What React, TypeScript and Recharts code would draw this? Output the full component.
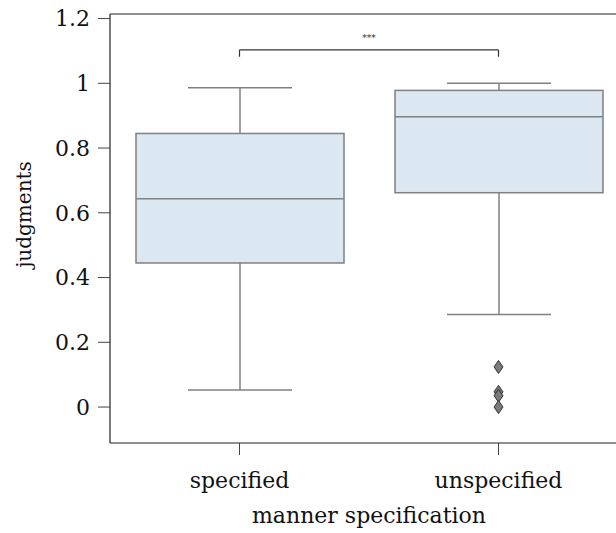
import React from 'react';
import { ComposedChart, Bar, Scatter, XAxis, YAxis, ReferenceLine, Label } from 'recharts';

const categories = ['specified', 'unspecified'];
const whiskerLow = [0.053, 0.286];
const q1 = [0.445, 0.662];
const median = [0.643, 0.897];
const q3 = [0.845, 0.978];
const whiskerHigh = [0.986, 1.0];
const outlierValues = [0.124, 0.047, 0.035, 0.0];
const yTicks = [0, 0.2, 0.4, 0.6, 0.8, 1, 1.2];
const bracketLevel = 1.103;
const bracketFoot = 1.082;

const yMin = -0.111;
const yMax = 1.214;

const data = categories.map((name, i) => ({
    name,
    range: [whiskerLow[i], whiskerHigh[i]],
    low: whiskerLow[i],
    q1: q1[i],
    median: median[i],
    q3: q3[i],
    high: whiskerHigh[i],
}));

const outliers = outlierValues.map((v) => ({ name: 'unspecified', value: v }));

const FONT = '"DejaVu Serif", serif';
const BOX_STROKE = '#808080';
const BOX_FILL = '#dbe8f2';

const BoxShape = (props: any) => {
    const { x, y, width, height, payload } = props;
    const { low, high } = payload;
    // pixel of a value, interpolated on the whisker span the bar covers
    const py = (v: number) => y + (height * (high - v)) / (high - low);
    const cx = x + width / 2;
    const capHalf = width / 4;
    return (
        <g>
            <line x1={cx} x2={cx} y1={py(high)} y2={py(payload.q3)} stroke={BOX_STROKE} strokeWidth={1.5} />
            <line x1={cx} x2={cx} y1={py(payload.q1)} y2={py(low)} stroke={BOX_STROKE} strokeWidth={1.5} />
            <line x1={cx - capHalf} x2={cx + capHalf} y1={py(high)} y2={py(high)} stroke={BOX_STROKE} strokeWidth={1.5} />
            <line x1={cx - capHalf} x2={cx + capHalf} y1={py(low)} y2={py(low)} stroke={BOX_STROKE} strokeWidth={1.5} />
            <rect
                x={x}
                y={py(payload.q3)}
                width={width}
                height={py(payload.q1) - py(payload.q3)}
                fill={BOX_FILL}
                stroke={BOX_STROKE}
                strokeWidth={1.5}
            />
            <line x1={x} x2={x + width} y1={py(payload.median)} y2={py(payload.median)} stroke={BOX_STROKE} strokeWidth={1.5} />
        </g>
    );
};

const Diamond = (props: any) => {
    const { cx, cy } = props;
    return (
        <path
            d={`M${cx},${cy - 6.5} L${cx + 4.5},${cy} L${cx},${cy + 6.5} L${cx - 4.5},${cy} Z`}
            fill="#7a7a7a"
            stroke="#333333"
            strokeWidth={1}
        />
    );
};

const YTitle = (props: any) => {
    const { viewBox } = props;
    const cx = 24;
    const cy = viewBox.y + viewBox.height / 2 - 14;
    return (
        <text x={cx} y={cy} transform={`rotate(-90, ${cx}, ${cy})`} textAnchor="middle" dominantBaseline="central" fontFamily={FONT} fontSize={20} fill="#111">
            judgments
        </text>
    );
};

export default function App() {
    return (
        <div style={{ position: 'absolute', left: 0, top: 0, width: 616, height: 533, overflow: 'hidden', background: '#fff' }}>
            <ComposedChart width={640} height={533} data={data} margin={{ top: 14, right: 12, left: 0, bottom: 0 }}>
                <XAxis
                    dataKey="name"
                    type="category"
                    allowDuplicatedCategory={false}
                    height={90}
                    tickSize={12}
                    tickMargin={17}
                    axisLine={{ stroke: '#222', strokeWidth: 1.2 }}
                    tickLine={{ stroke: '#444', strokeWidth: 1 }}
                    tick={{ fontFamily: FONT, fontSize: 22, fill: '#111' }}
                >
                    <Label value="manner specification" position="insideBottom" offset={10} fontFamily={FONT} fontSize={22} fill="#111" />
                </XAxis>
                <YAxis
                    type="number"
                    domain={[yMin, yMax]}
                    ticks={yTicks}
                    allowDataOverflow
                    width={110}
                    tickSize={12}
                    tickMargin={8}
                    axisLine={{ stroke: '#222', strokeWidth: 1.2 }}
                    tickLine={{ stroke: '#444', strokeWidth: 1 }}
                    tick={{ fontFamily: FONT, fontSize: 22, fill: '#111' }}
                >
                    <Label content={<YTitle />} />
                </YAxis>
                <ReferenceLine y={yMax} stroke="#222" strokeWidth={1.2} ifOverflow="visible" />
                <Bar dataKey="range" barSize={208} shape={<BoxShape />} isAnimationActive={false} />
                <Scatter data={outliers} dataKey="value" shape={<Diamond />} isAnimationActive={false} />
                <ReferenceLine
                    segment={[{ x: categories[0], y: bracketLevel }, { x: categories[1], y: bracketLevel }]}
                    stroke="#333"
                    strokeWidth={1.2}
                    label={{ value: '***', position: 'top', offset: 9, fontSize: 9, fill: '#333', fontFamily: FONT }}
                />
                <ReferenceLine
                    segment={[{ x: categories[0], y: bracketLevel }, { x: categories[0], y: bracketFoot }]}
                    stroke="#333"
                    strokeWidth={1.2}
                />
                <ReferenceLine
                    segment={[{ x: categories[1], y: bracketLevel }, { x: categories[1], y: bracketFoot }]}
                    stroke="#333"
                    strokeWidth={1.2}
                />
            </ComposedChart>
        </div>
    );
}
